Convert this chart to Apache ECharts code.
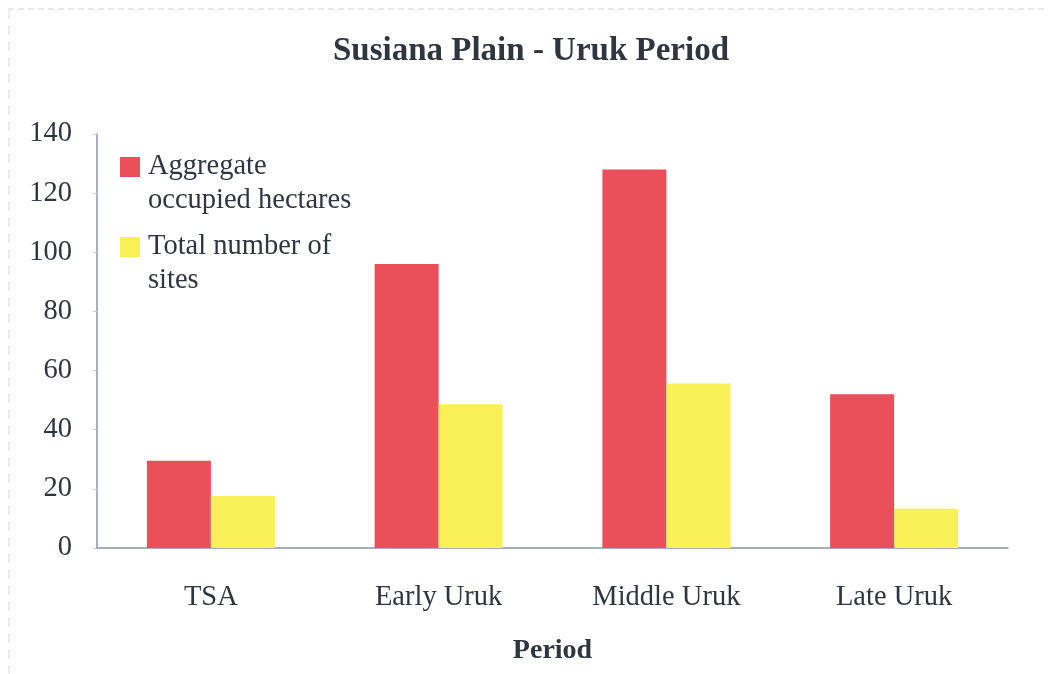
<!DOCTYPE html>
<html>
<head>
<meta charset="utf-8">
<script src="https://cdn.jsdelivr.net/npm/echarts@6/dist/echarts.min.js"></script>
<style>
html,body{margin:0;padding:0;background:#fff;}
#chart{width:1048px;height:674px;}
</style>
</head>
<body>
<div id="chart"></div>
<script>
const titleText = 'Susiana Plain - Uruk Period';
const categories = ['TSA', 'Early Uruk', 'Middle Uruk', 'Late Uruk'];
const seriesNames = ['Aggregate\noccupied hectares', 'Total number of\nsites'];
const hectares = [29.5, 96, 128, 52];
const sites = [17.6, 48.6, 55.6, 13.3];
const yTicks = { min: 0, max: 140, interval: 20 };
const xAxisName = 'Period';

const FONT = '"Liberation Serif", "Times New Roman", serif';
const TEXT = '#2f3640';

const chart = echarts.init(document.getElementById('chart'), null, { renderer: 'canvas' });
chart.setOption({
  backgroundColor: '#ffffff',
  animation: false,
  title: {
    text: titleText,
    left: 531,
    top: 35,
    padding: 0,
    textAlign: 'center',
    textStyle: { fontFamily: FONT, fontSize: 33, fontWeight: 'bold', color: TEXT }
  },
  legend: {
    orient: 'vertical',
    left: 120,
    top: 116,
    padding: 0,
    itemWidth: 20,
    itemHeight: 20,
    itemGap: -22,
    icon: 'rect',
    data: seriesNames,
    formatter: function (name) {
      return '\n' + name.split('\n').map(function (s) { return '{t|' + s + '}'; }).join('\n');
    },
    textStyle: {
      fontFamily: FONT, fontSize: 28.5, color: TEXT, lineHeight: 34,
      rich: {
        t: { fontFamily: FONT, fontSize: 28.5, color: TEXT, lineHeight: 34, padding: [0, 0, 0, 3] }
      }
    }
  },
  grid: { left: 97, right: 40, top: 134, bottom: 126, containLabel: false },
  xAxis: {
    type: 'category',
    data: categories,
    name: xAxisName,
    nameLocation: 'middle',
    nameGap: 89,
    nameTextStyle: { fontFamily: FONT, fontSize: 28, fontWeight: 'bold', color: TEXT },
    axisLine: { lineStyle: { color: '#8a93a6', width: 1.5 } },
    axisTick: { show: false },
    axisLabel: { fontFamily: FONT, fontSize: 28.5, color: TEXT, margin: 35 }
  },
  yAxis: {
    type: 'value',
    min: yTicks.min,
    max: yTicks.max,
    interval: yTicks.interval,
    splitLine: { show: false },
    axisLine: { show: true, lineStyle: { color: '#8a93a6', width: 1.5 } },
    axisTick: { show: true, length: 4, lineStyle: { color: '#c3c8d2' } },
    axisLabel: { fontFamily: FONT, fontSize: 28.5, color: TEXT, margin: 25 }
  },
  series: [
    {
      name: seriesNames[0], type: 'bar', data: hectares,
      barWidth: 64, barGap: '0%',
      itemStyle: { color: '#eb4f5a' }
    },
    {
      name: seriesNames[1], type: 'bar', data: sites,
      barWidth: 64, barGap: '0%',
      itemStyle: { color: '#f9f057' }
    }
  ],
  graphic: [
    { type: 'line', shape: { x1: 8, y1: 9, x2: 1048, y2: 9 }, style: { stroke: '#d6d6d6', lineWidth: 1, lineDash: [6, 4] }, silent: true },
    { type: 'line', shape: { x1: 9, y1: 9, x2: 9, y2: 674 }, style: { stroke: '#dcdcdc', lineWidth: 1, lineDash: [10, 6] }, silent: true }
  ]
});
</script>
</body>
</html>
